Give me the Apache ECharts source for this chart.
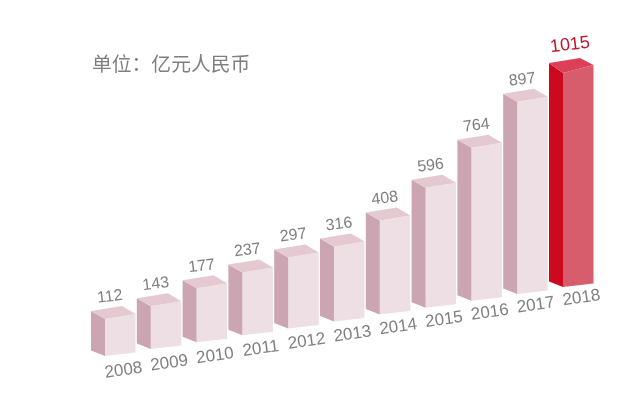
<!DOCTYPE html>
<html><head><meta charset="utf-8">
<style>html,body{margin:0;padding:0;background:#fff}#c{width:640px;height:408px}</style>
<script src="https://cdn.jsdelivr.net/npm/echarts@6/dist/echarts.min.js"></script>
</head><body><div id="c"></div>
<script>
const years = ['2008','2009','2010','2011','2012','2013','2014','2015','2016','2017','2018'];
// Figures printed above the bars.
const values = [112,143,177,237,297,316,408,596,764,897,1015];
// Bar levels: the reference's bars are not exactly to scale
// with their printed figures (notably 596 and 764), so these are estimated from the bar heights.
const barLevels = [114,144,200,246,287,308,405,537,706,905,1017];
const unitText = '单位：亿元人民币';
const normalColors = {front:'#eedfe4', left:'#cba6b2', top:'#e4c9d1', label:'#7f7f7f'};
const peakColors = {front:'#d75c6c', left:'#cb0a20', top:'#dc4058', label:'#c4142c'};
const slope = -0.1507;

const chart = echarts.init(document.getElementById('c'), null, {renderer:'canvas'});
chart.setOption({
  animation:false,
  backgroundColor:'#fff',
  title:{text:unitText,left:92,top:54,padding:0,textStyle:{color:'#7f7f7f',fontSize:19.8,fontWeight:'normal',fontFamily:'"Noto Sans CJK SC"'}},
  grid:{left:97.1,width:503.8,bottom:52,height:230.3},
  xAxis:{type:'category',data:years,show:false},
  yAxis:{type:'value',min:-75,max:1100,show:false},
  series:[{
    type:'custom',
    clip:false,
    encode:{x:0,y:1},
    data:barLevels.map((v,i)=>[i,v,values[i]]),
    renderItem(params,api){
      const i=api.value(0), v=api.value(1), shown=api.value(2);
      const x0=api.coord([0,0])[0];
      const top=api.coord([i,v]), base=api.coord([i,-75]);
      const cx=top[0];
      const skew=slope*(cx-x0);
      const fx=cx-15, ty=top[1]+skew, by=base[1]+skew;
      const isPeak=i===years.length-1;
      const c=isPeak?peakColors:normalColors;
      const dl=isPeak?10:8, db=isPeak?15:13, dr=isPeak?8:5;
      const poly=(pts,fill)=>({type:'polygon',shape:{points:pts},style:{fill}});
      return {type:'group',children:[
        poly([[fx,ty],[fx+30.5,ty-dr],[fx+30.5,by-3.5],[fx,by]],c.front),
        poly([[fx-14,ty-dl],[fx,ty],[fx,by],[fx-14,by-5.5]],c.left),
        poly([[fx-14,ty-dl],[fx+17,ty-db],[fx+30.5,ty-dr],[fx,ty]],c.top),
        {type:'text',x:fx+(isPeak?7:5),y:ty-(isPeak?28:22),rotation:0.12,
         style:{text:String(shown),fill:c.label,font:(isPeak?'18':'16')+'px "Liberation Sans"',align:'center',verticalAlign:'middle'}},
        {type:'text',x:fx+18.5,y:by+14.5+skew*0.05,rotation:0.14,
         style:{text:years[i],fill:'#7f7f7f',font:'17px "Liberation Sans"',align:'center',verticalAlign:'middle'}}
      ]};
    }
  }]
});
</script></body></html>
